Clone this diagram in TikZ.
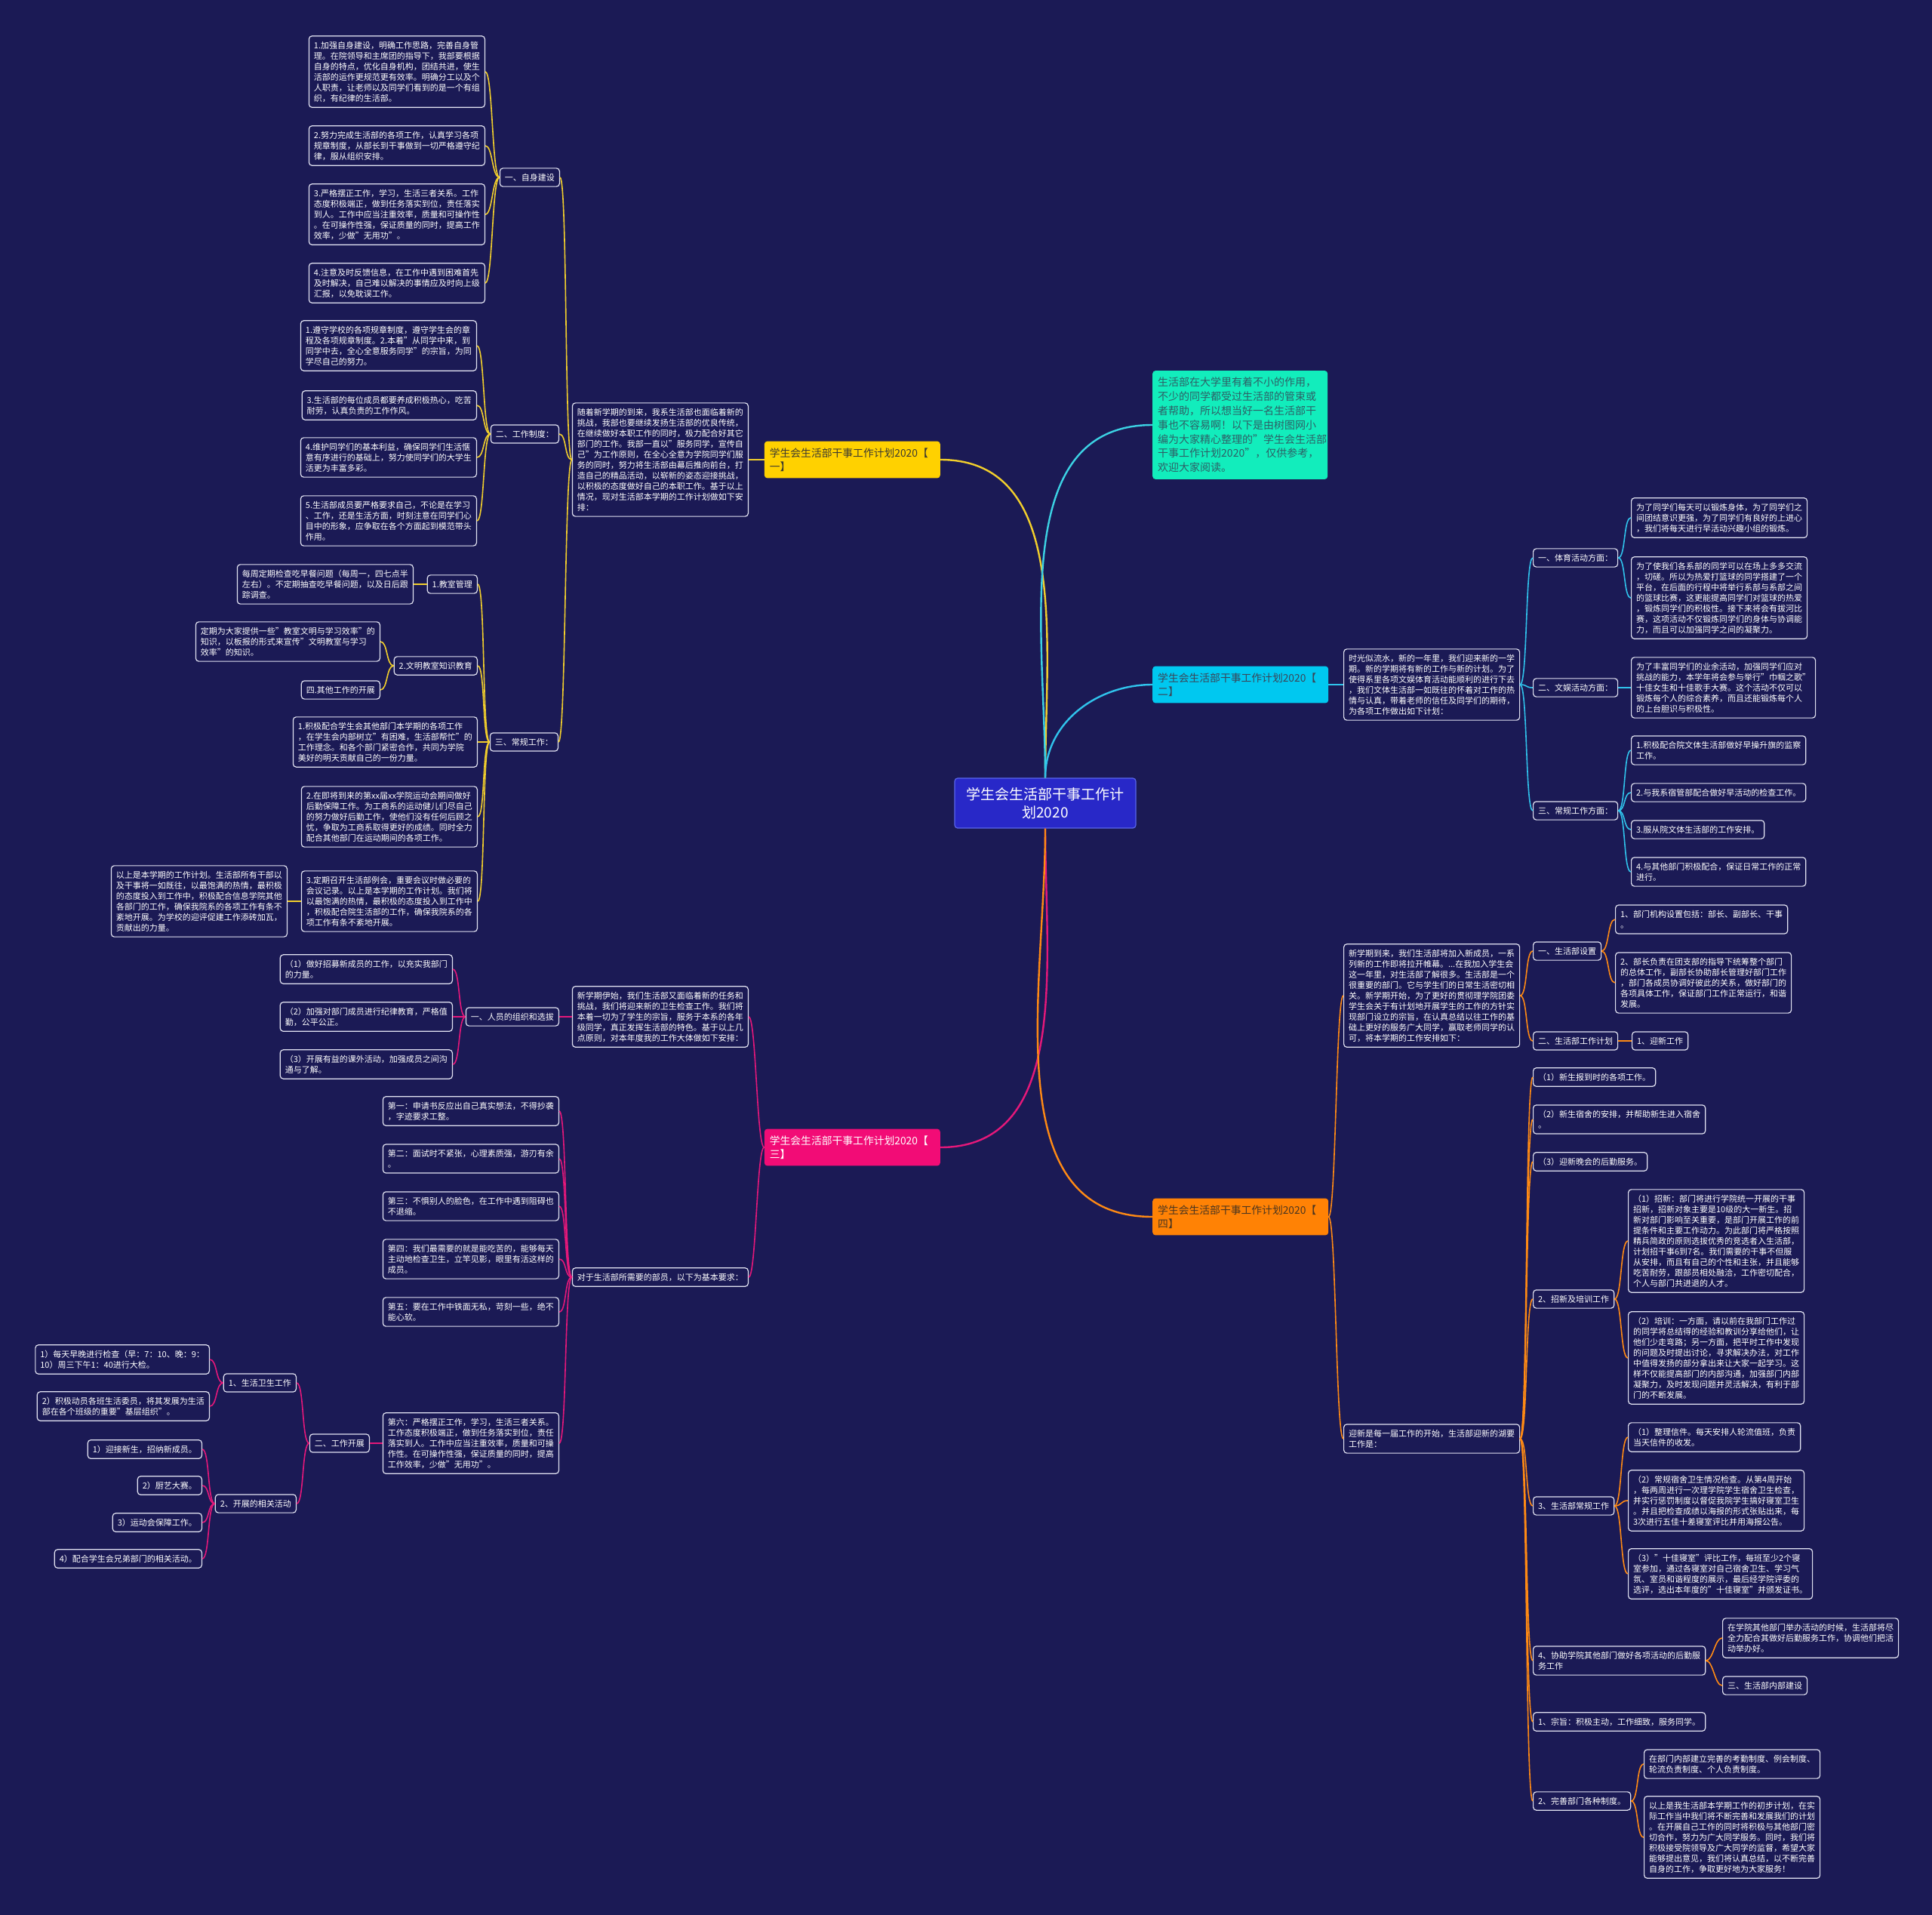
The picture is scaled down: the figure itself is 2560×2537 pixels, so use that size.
\documentclass[tikz,border=0pt]{standalone}
\usepackage{fontspec}
\setmainfont{Noto Sans CJK SC}
\usetikzlibrary{positioning}
\definecolor{bgNavy}{HTML}{1B1A55}
\definecolor{rootBlue}{HTML}{2828C8}
\definecolor{rootEdge}{HTML}{5A66EA}
\definecolor{leafEdge}{HTML}{E2E3F2}
\definecolor{ylwNode}{HTML}{FFD100}
\definecolor{ylwLine}{HTML}{F2CF2C}
\definecolor{ylwText}{HTML}{3D3A30}
\definecolor{cynNode}{HTML}{00C8F0}
\definecolor{cynLine}{HTML}{30C3EC}
\definecolor{cynText}{HTML}{3A4558}
\definecolor{grnNode}{HTML}{12EDBC}
\definecolor{grnLine}{HTML}{3CD2E4}
\definecolor{grnText}{HTML}{2E5F66}
\definecolor{pnkNode}{HTML}{F20C76}
\definecolor{pnkLine}{HTML}{E5187A}
\definecolor{orgNode}{HTML}{FF8205}
\definecolor{orgLine}{HTML}{FF8A14}
\definecolor{orgText}{HTML}{4A3520}

\begin{document}
\begin{tikzpicture}[x=1pt, y=1pt,
    leaf/.style={rectangle, rounded corners=4pt, draw=leafEdge, line width=1.2pt,
                 fill=bgNavy, text=white, align=left, inner xsep=6.5pt, inner ysep=7pt,
                 font=\fontsize{11pt}{14pt}\selectfont},
    topic/.style={rectangle, rounded corners=4pt, text width=219pt, align=left,
                  inner xsep=7pt, inner ysep=9pt, font=\fontsize{13.8pt}{18pt}\selectfont},
    root/.style={rectangle, rounded corners=4pt, draw=rootEdge, line width=1.2pt,
                 fill=rootBlue, text=white, text width=210pt, align=center,
                 inner xsep=15pt, inner ysep=12pt, font=\fontsize{19pt}{24.5pt}\selectfont},
    lc/.style={out=180, in=0, distance=10pt},
    rc/.style={out=0, in=180, distance=10pt},
    ylink/.style={draw=ylwLine, line width=1.6pt},
    clink/.style={draw=cynLine, line width=1.6pt},
    plink/.style={draw=pnkLine, line width=1.6pt},
    olink/.style={draw=orgLine, line width=1.6pt},
    trunk/.style={line width=2.4pt},
  ]
  \fill[bgNavy] (0,0) rectangle (2560,-2537);
  \useasboundingbox (0,0) rectangle (2560,-2537);

  % centre and the four plans
  \node[root] (root) at (1385,-1064) {学生会生活部干事工作计\\划2020};
  \node[topic, fill=grnNode, text=grnText, text width=218pt, font=\fontsize{14pt}{18.8pt}\selectfont, anchor=west] (intro) at (1527,-563) {生活部在大学里有着不小的作用，\\不少的同学都受过生活部的管束或\\者帮助，所以想当好一名生活部干\\事也不容易啊！以下是由树图网小\\编为大家精心整理的"学生会生活部\\干事工作计划2020"，仅供参考，\\欢迎大家阅读。};
  \node[topic, fill=ylwNode, text=ylwText, anchor=east] (p1) at (1246,-609) {学生会生活部干事工作计划2020【\\一】};
  \node[topic, fill=cynNode, text=cynText, anchor=west] (p2) at (1527,-907) {学生会生活部干事工作计划2020【\\二】};
  \node[topic, fill=pnkNode, text=white, anchor=east] (p3) at (1246,-1520) {学生会生活部干事工作计划2020【\\三】};
  \node[topic, fill=orgNode, text=orgText, anchor=west] (p4) at (1527,-1612) {学生会生活部干事工作计划2020【\\四】};

  % plan one
  \node[leaf, anchor=east] (p1i) at (992,-609) {随着新学期的到来，我系生活部也面临着新的\\挑战，我部也要继续发扬生活部的优良传统，\\在继续做好本职工作的同时，极力配合好其它\\部门的工作。我部一直以"服务同学，宣传自\\己"为工作原则，在全心全意为学院同学们服\\务的同时，努力将生活部由幕后推向前台，打\\造自己的精品活动，以崭新的姿态迎接挑战，\\以积极的态度做好自己的本职工作。基于以上\\情况，现对生活部本学期的工作计划做如下安\\排：};
  \node[leaf, anchor=east] (p1a) at (742,-235) {一、自身建设};
  \node[leaf, anchor=east] (p1a1) at (643,-95) {1.加强自身建设，明确工作思路，完善自身管\\理。在院领导和主席团的指导下，我部要根据\\自身的特点，优化自身机构，团结共进，使生\\活部的运作更规范更有效率。明确分工以及个\\人职责，让老师以及同学们看到的是一个有组\\织，有纪律的生活部。};
  \node[leaf, anchor=east] (p1a2) at (643,-193) {2.努力完成生活部的各项工作，认真学习各项\\规章制度，从部长到干事做到一切严格遵守纪\\律，服从组织安排。};
  \node[leaf, anchor=east] (p1a3) at (643,-284) {3.严格摆正工作，学习，生活三者关系。工作\\态度积极端正，做到任务落实到位，责任落实\\到人。工作中应当注重效率，质量和可操作性\\。在可操作性强，保证质量的同时，提高工作\\效率，少做"无用功"。};
  \node[leaf, anchor=east] (p1a4) at (643,-375) {4.注意及时反馈信息，在工作中遇到困难首先\\及时解决，自己难以解决的事情应及时向上级\\汇报，以免耽误工作。};
  \node[leaf, anchor=east] (p1b) at (741,-575) {二、工作制度：};
  \node[leaf, anchor=east] (p1b1) at (632,-458) {1.遵守学校的各项规章制度，遵守学生会的章\\程及各项规章制度。2.本着"从同学中来，到\\同学中去，全心全意服务同学"的宗旨，为同\\学尽自己的努力。};
  \node[leaf, anchor=east] (p1b2) at (632,-537) {3.生活部的每位成员都要养成积极热心，吃苦\\耐劳，认真负责的工作作风。};
  \node[leaf, anchor=east] (p1b3) at (632,-606) {4.维护同学们的基本利益，确保同学们生活惬\\意有序进行的基础上，努力使同学们的大学生\\活更为丰富多彩。};
  \node[leaf, anchor=east] (p1b4) at (632,-690) {5.生活部成员要严格要求自己，不论是在学习\\、工作，还是生活方面，时刻注意在同学们心\\目中的形象，应争取在各个方面起到模范带头\\作用。};
  \node[leaf, anchor=east] (p1c) at (740,-983) {三、常规工作：};
  \node[leaf, anchor=east] (p1c1) at (633,-774) {1.教室管理};
  \node[leaf, anchor=east] (p1c1a) at (548,-774) {每周定期检查吃早餐问题（每周一，四七点半\\左右）。不定期抽查吃早餐问题，以及日后跟\\踪调查。};
  \node[leaf, anchor=east] (p1c2) at (633,-882) {2.文明教室知识教育};
  \node[leaf, anchor=east] (p1c2a) at (504,-850) {定期为大家提供一些"教室文明与学习效率"的\\知识，以板报的形式来宣传"文明教室与学习\\效率"的知识。};
  \node[leaf, anchor=east] (p1c2b) at (504,-914) {四.其他工作的开展};
  \node[leaf, anchor=east] (p1c3) at (633,-983) {1.积极配合学生会其他部门本学期的各项工作\\，在学生会内部树立"有困难，生活部帮忙"的\\工作理念。和各个部门紧密合作，共同为学院\\美好的明天贡献自己的一份力量。};
  \node[leaf, anchor=east] (p1c4) at (633,-1082) {2.在即将到来的第xx届xx学院运动会期间做好\\后勤保障工作。为工商系的运动健儿们尽自己\\的努力做好后勤工作，使他们没有任何后顾之\\忧，争取为工商系取得更好的成绩。同时全力\\配合其他部门在运动期间的各项工作。};
  \node[leaf, anchor=east] (p1c5) at (633,-1194) {3.定期召开生活部例会，重要会议时做必要的\\会议记录。以上是本学期的工作计划。我们将\\以最饱满的热情，最积极的态度投入到工作中\\，积极配合院生活部的工作，确保我院系的各\\项工作有条不紊地开展。};
  \node[leaf, anchor=east] (p1c5a) at (381,-1194) {以上是本学期的工作计划。生活部所有干部以\\及干事将一如既往，以最饱满的热情，最积极\\的态度投入到工作中，积极配合信息学院其他\\各部门的工作，确保我院系的各项工作有条不\\紊地开展。为学校的迎评促建工作添砖加瓦，\\贡献出的力量。};

  % plan two
  \node[leaf, anchor=west] (p2i) at (1780,-907) {时光似流水，新的一年里，我们迎来新的一学\\期。新的学期将有新的工作与新的计划。为了\\使得系里各项文娱体育活动能顺利的进行下去\\，我们文体生活部一如既往的怀着对工作的热\\情与认真，带着老师的信任及同学们的期待，\\为各项工作做出如下计划：};
  \node[leaf, anchor=west] (p2a) at (2031,-739) {一、体育活动方面：};
  \node[leaf, anchor=west] (p2a1) at (2161,-686) {为了同学们每天可以锻炼身体，为了同学们之\\间团结意识更强，为了同学们有良好的上进心\\，我们将每天进行早活动兴趣小组的锻炼。};
  \node[leaf, anchor=west] (p2a2) at (2161,-792) {为了使我们各系部的同学可以在场上多多交流\\，切磋。所以为热爱打篮球的同学搭建了一个\\平台，在后面的行程中将举行系部与系部之间\\的篮球比赛，这更能提高同学们对篮球的热爱\\，锻炼同学们的积极性。接下来将会有拔河比\\赛，这项活动不仅锻炼同学们的身体与协调能\\力，而且可以加强同学之间的凝聚力。};
  \node[leaf, anchor=west] (p2b) at (2031,-911) {二、文娱活动方面：};
  \node[leaf, anchor=west] (p2b1) at (2161,-911) {为了丰富同学们的业余活动，加强同学们应对\\挑战的能力，本学年将会参与举行"巾帼之歌"\\十佳女生和十佳歌手大赛。这个活动不仅可以\\锻炼每个人的综合素养，而且还能锻炼每个人\\的上台胆识与积极性。};
  \node[leaf, anchor=west] (p2c) at (2031,-1074) {三、常规工作方面：};
  \node[leaf, anchor=west] (p2c1) at (2161,-994) {1.积极配合院文体生活部做好早操升旗的监察\\工作。};
  \node[leaf, anchor=west] (p2c2) at (2161,-1050) {2.与我系宿管部配合做好早活动的检查工作。};
  \node[leaf, anchor=west] (p2c3) at (2161,-1099) {3.服从院文体生活部的工作安排。};
  \node[leaf, anchor=west] (p2c4) at (2161,-1155) {4.与其他部门积极配合，保证日常工作的正常\\进行。};

  % plan three
  \node[leaf, anchor=east] (p3i) at (992,-1347) {新学期伊始，我们生活部又面临着新的任务和\\挑战，我们将迎来新的卫生检查工作。我们将\\本着一切为了学生的宗旨，服务于本系的各年\\级同学，真正发挥生活部的特色。基于以上几\\点原则，对本年度我的工作大体做如下安排：};
  \node[leaf, anchor=east] (p3a) at (741,-1347) {一、人员的组织和选拔};
  \node[leaf, anchor=east] (p3a1) at (600,-1284) {（1）做好招募新成员的工作，以充实我部门\\的力量。};
  \node[leaf, anchor=east] (p3a2) at (600,-1347) {（2）加强对部门成员进行纪律教育，严格值\\勤，公平公正。};
  \node[leaf, anchor=east] (p3a3) at (600,-1410) {（3）开展有益的课外活动，加强成员之间沟\\通与了解。};
  \node[leaf, anchor=east] (p3r) at (992,-1692) {对于生活部所需要的部员，以下为基本要求：};
  \node[leaf, anchor=east] (p3r1) at (741,-1472) {第一：申请书反应出自己真实想法，不得抄袭\\，字迹要求工整。};
  \node[leaf, anchor=east] (p3r2) at (741,-1535) {第二：面试时不紧张，心理素质强，游刃有余\\。};
  \node[leaf, anchor=east] (p3r3) at (741,-1598) {第三：不惧别人的脸色，在工作中遇到阻碍也\\不退缩。};
  \node[leaf, anchor=east] (p3r4) at (741,-1668) {第四：我们最需要的就是能吃苦的，能够每天\\主动地检查卫生，立竿见影，眼里有活这样的\\成员。};
  \node[leaf, anchor=east] (p3r5) at (741,-1738) {第五：要在工作中铁面无私，苛刻一些，绝不\\能心软。};
  \node[leaf, anchor=east] (p3r6) at (741,-1912) {第六：严格摆正工作，学习，生活三者关系。\\工作态度积极端正，做到任务落实到位，责任\\落实到人。工作中应当注重效率，质量和可操\\作性。在可操作性强，保证质量的同时，提高\\工作效率，少做"无用功"。};
  \node[leaf, anchor=east] (p3w) at (490,-1912) {二、工作开展};
  \node[leaf, anchor=east] (p3w1) at (393,-1832) {1、生活卫生工作};
  \node[leaf, anchor=east] (p3w11) at (278,-1801) {1）每天早晚进行检查（早：7：10、晚：9：\\10）周三下午1：40进行大检。};
  \node[leaf, anchor=east] (p3w12) at (278,-1863) {2）积极动员各班生活委员，将其发展为生活\\部在各个班级的重要"基层组织"。};
  \node[leaf, anchor=east] (p3w2) at (393,-1992) {2、开展的相关活动};
  \node[leaf, anchor=east] (p3w21) at (268,-1920) {1）迎接新生，招纳新成员。};
  \node[leaf, anchor=east] (p3w22) at (268,-1968) {2）厨艺大赛。};
  \node[leaf, anchor=east] (p3w23) at (268,-2017) {3）运动会保障工作。};
  \node[leaf, anchor=east] (p3w24) at (268,-2065) {4）配合学生会兄弟部门的相关活动。};

  % plan four
  \node[leaf, anchor=west] (p4i) at (1780,-1319) {新学期到来，我们生活部将加入新成员，一系\\列新的工作即将拉开帷幕。...在我加入学生会\\这一年里，对生活部了解很多。生活部是一个\\很重要的部门。它与学生们的日常生活密切相\\关。新学期开始，为了更好的贯彻理学院团委\\学生会关于有计划地开展学生的工作的方针实\\现部门设立的宗旨，在认真总结以往工作的基\\础上更好的服务广大同学，赢取老师同学的认\\可，将本学期的工作安排如下：};
  \node[leaf, anchor=west] (p4a) at (2031,-1260) {一、生活部设置};
  \node[leaf, anchor=west] (p4a1) at (2140,-1218) {1、部门机构设置包括：部长、副部长、干事\\。};
  \node[leaf, anchor=west] (p4a2) at (2140,-1302) {2、部长负责在团支部的指导下统筹整个部门\\的总体工作，副部长协助部长管理好部门工作\\，部门各成员协调好彼此的关系，做好部门的\\各项具体工作，保证部门工作正常运行，和谐\\发展。};
  \node[leaf, anchor=west] (p4b) at (2031,-1379) {二、生活部工作计划};
  \node[leaf, anchor=west] (p4b1) at (2162,-1379) {1、迎新工作};
  \node[leaf, anchor=west] (p4y) at (1780,-1906) {迎新是每一届工作的开始，生活部迎新的湖要\\工作是：};
  \node[leaf, anchor=west] (p4y1) at (2031,-1427) {（1）新生报到时的各项工作。};
  \node[leaf, anchor=west] (p4y2) at (2031,-1483) {（2）新生宿舍的安排，并帮助新生进入宿舍\\。};
  \node[leaf, anchor=west] (p4y3) at (2031,-1539) {（3）迎新晚会的后勤服务。};
  \node[leaf, anchor=west] (p4y4) at (2031,-1721) {2、招新及培训工作};
  \node[leaf, anchor=west] (p4y41) at (2157,-1644) {（1）招新：部门将进行学院统一开展的干事\\招新，招新对象主要是10级的大一新生。招\\新对部门影响至关重要，是部门开展工作的前\\提条件和主要工作动力。为此部门将严格按照\\精兵简政的原则选拔优秀的竞选者入生活部，\\计划招干事6到7名。我们需要的干事不但服\\从安排，而且有自己的个性和主张，并且能够\\吃苦耐劳，跟部员相处融洽，工作密切配合，\\个人与部门共进退的人才。};
  \node[leaf, anchor=west] (p4y42) at (2157,-1799) {（2）培训：一方面，请以前在我部门工作过\\的同学将总结得的经验和教训分享给他们，让\\他们少走弯路；另一方面，把平时工作中发现\\的问题及时提出讨论，寻求解决办法，对工作\\中值得发扬的部分拿出来让大家一起学习。这\\样不仅能提高部门的内部沟通，加强部门内部\\凝聚力，及时发现问题并灵活解决，有利于部\\门的不断发展。};
  \node[leaf, anchor=west] (p4y5) at (2031,-1995) {3、生活部常规工作};
  \node[leaf, anchor=west] (p4y51) at (2157,-1904) {（1）整理信件。每天安排人轮流值班，负责\\当天信件的收发。};
  \node[leaf, anchor=west] (p4y52) at (2157,-1988) {（2）常规宿舍卫生情况检查。从第4周开始\\，每两周进行一次理学院学生宿舍卫生检查，\\并实行惩罚制度以督促我院学生搞好寝室卫生\\。并且把检查成绩以海报的形式张贴出来，每\\3次进行五佳十差寝室评比并用海报公告。};
  \node[leaf, anchor=west] (p4y53) at (2157,-2085) {（3）"十佳寝室"评比工作，每班至少2个寝\\室参加，通过各寝室对自己宿舍卫生、学习气\\氛、室员和谐程度的展示，最后经学院评委的\\选评，选出本年度的"十佳寝室"并颁发证书。};
  \node[leaf, anchor=west] (p4y6) at (2031,-2200) {4、协助学院其他部门做好各项活动的后勤服\\务工作};
  \node[leaf, anchor=west] (p4y61) at (2282,-2170) {在学院其他部门举办活动的时候，生活部将尽\\全力配合其做好后勤服务工作，协调他们把活\\动举办好。};
  \node[leaf, anchor=west] (p4y62) at (2282,-2233) {三、生活部内部建设};
  \node[leaf, anchor=west] (p4y7) at (2031,-2281) {1、宗旨：积极主动，工作细致，服务同学。};
  \node[leaf, anchor=west] (p4y8) at (2031,-2386) {2、完善部门各种制度。};
  \node[leaf, anchor=west] (p4y81) at (2178,-2337) {在部门内部建立完善的考勤制度、例会制度、\\轮流负责制度、个人负责制度。};
  \node[leaf, anchor=west] (p4y82) at (2178,-2434) {以上是我生活部本学期工作的初步计划，在实\\际工作当中我们将不断完善和发展我们的计划\\。在开展自己工作的同时将积极与其他部门密\\切合作，努力为广大同学服务。同时，我们将\\积极接受院领导及广大同学的监督，希望大家\\能够提出意见，我们将认真总结，以不断完善\\自身的工作，争取更好地为大家服务！};

  % trunk curves from the centre
  \draw[ylink, trunk] (root.north) to[out=90, in=0] (p1.east);
  \draw[draw=grnLine, trunk] (root.north) to[out=90, in=180] (intro.west);
  \draw[clink, trunk] (root.north) to[out=90, in=180] (p2.west);
  \draw[plink, trunk] (root.south) to[out=-90, in=0] (p3.east);
  \draw[olink, trunk] (root.south) to[out=-90, in=180] (p4.west);

  % branch links, left side
  \foreach \s/\t in {p1/p1i, p1i/p1a, p1i/p1b, p1i/p1c,
      p1a/p1a1, p1a/p1a2, p1a/p1a3, p1a/p1a4,
      p1b/p1b1, p1b/p1b2, p1b/p1b3, p1b/p1b4,
      p1c/p1c1, p1c/p1c2, p1c/p1c3, p1c/p1c4, p1c/p1c5,
      p1c1/p1c1a, p1c2/p1c2a, p1c2/p1c2b, p1c5/p1c5a}
    \draw[ylink] (\s.west) to[lc] (\t.east);
  \foreach \s/\t in {p3/p3i, p3/p3r, p3i/p3a, p3a/p3a1, p3a/p3a2, p3a/p3a3,
      p3r/p3r1, p3r/p3r2, p3r/p3r3, p3r/p3r4, p3r/p3r5, p3r/p3r6,
      p3r6/p3w, p3w/p3w1, p3w/p3w2, p3w1/p3w11, p3w1/p3w12,
      p3w2/p3w21, p3w2/p3w22, p3w2/p3w23, p3w2/p3w24}
    \draw[plink] (\s.west) to[lc] (\t.east);

  % branch links, right side
  \foreach \s/\t in {p2/p2i, p2i/p2a, p2i/p2b, p2i/p2c,
      p2a/p2a1, p2a/p2a2, p2b/p2b1,
      p2c/p2c1, p2c/p2c2, p2c/p2c3, p2c/p2c4}
    \draw[clink] (\s.east) to[rc] (\t.west);
  \foreach \s/\t in {p4/p4i, p4/p4y, p4i/p4a, p4i/p4b, p4a/p4a1, p4a/p4a2, p4b/p4b1,
      p4y/p4y1, p4y/p4y2, p4y/p4y3, p4y/p4y4, p4y/p4y5, p4y/p4y6, p4y/p4y7, p4y/p4y8,
      p4y4/p4y41, p4y4/p4y42, p4y5/p4y51, p4y5/p4y52, p4y5/p4y53,
      p4y6/p4y61, p4y6/p4y62, p4y8/p4y81, p4y8/p4y82}
    \draw[olink] (\s.east) to[rc] (\t.west);
\end{tikzpicture}
\end{document}
